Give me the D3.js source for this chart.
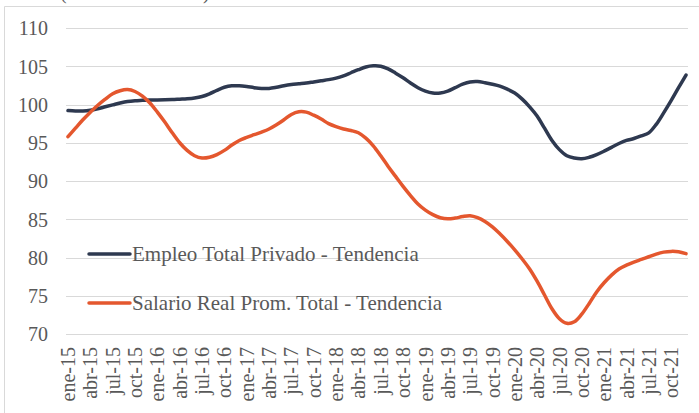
<!DOCTYPE html>
<html>
<head>
<meta charset="utf-8">
<script src="https://cdn.jsdelivr.net/npm/d3@7"></script>
<style>
  html, body { margin: 0; padding: 0; background: #fff; }
  svg { display: block; }
</style>
</head>
<body>
<svg id="chart" width="699" height="413"></svg>
<script>
// ---- data ----
const months = ["ene","feb","mar","abr","may","jun","jul","ago","sep","oct","nov","dic"];
const years = ["15","16","17","18","19","20","21"];
const seriesNames = ["Empleo Total Privado - Tendencia", "Salario Real Prom. Total - Tendencia"];
const empleo = [
  99.2, 99.15, 99.15, 99.25, 99.45, 99.7, 99.95, 100.2, 100.4, 100.5, 100.55, 100.6,
  100.6, 100.62, 100.65, 100.7, 100.75, 100.85, 101.05, 101.4, 101.85, 102.25, 102.45, 102.45,
  102.35, 102.2, 102.1, 102.1, 102.25, 102.45, 102.6, 102.7, 102.8, 102.95, 103.1, 103.25,
  103.45, 103.75, 104.15, 104.55, 104.9, 105.05, 105.0, 104.65, 104.1, 103.5, 102.8, 102.2,
  101.75, 101.5, 101.5, 101.75, 102.2, 102.65, 102.95, 103.0, 102.85, 102.65, 102.4, 102.0,
  101.5, 100.7, 99.7, 98.5, 96.9, 95.3, 94.1, 93.3, 93.0, 92.9, 93.1, 93.45,
  93.9, 94.4, 94.9, 95.3, 95.55, 95.9, 96.3, 97.4, 98.9, 100.5, 102.2, 103.85
];
const salario = [
  95.8, 96.9, 98.0, 99.0, 99.9, 100.7, 101.4, 101.8, 101.95, 101.7, 101.1, 100.2,
  99.0, 97.7, 96.3, 95.0, 94.0, 93.3, 93.0, 93.1, 93.45, 94.0, 94.7, 95.3,
  95.7, 96.05, 96.4, 96.8, 97.35, 98.0, 98.7, 99.05, 99.0, 98.6, 98.1, 97.5,
  97.1, 96.8, 96.6, 96.3, 95.6, 94.6, 93.3, 91.9, 90.6, 89.3, 88.1, 87.0,
  86.2, 85.6, 85.2, 85.05, 85.15, 85.35, 85.45, 85.2, 84.7, 84.0, 83.1, 82.1,
  81.0, 79.8, 78.5, 76.9, 75.1, 73.3, 72.0, 71.4, 71.6, 72.6, 74.0, 75.5,
  76.7, 77.7, 78.5, 79.0, 79.4, 79.75, 80.1, 80.45, 80.7, 80.8, 80.75, 80.5
];
const yTicks = [70, 75, 80, 85, 90, 95, 100, 105, 110];
const colors = ["#2e3950", "#e4572e"];

// ---- build ----
const FONT = "'Liberation Serif', 'Times New Roman', Times, 'DejaVu Serif', 'Noto Serif', serif";
const categories = [];
years.forEach(y => months.forEach(m => categories.push(m + "-" + y)));

const svg = d3.select("#chart").style("font-family", FONT);
const x = d3.scaleLinear().domain([0, categories.length - 1]).range([68, 686]);
const y = d3.scaleLinear().domain([70, 110]).range([334, 28]);

// frame
svg.append("line").attr("x1", 4.5).attr("x2", 4.5).attr("y1", 6.5).attr("y2", 413)
  .attr("stroke", "#d9d9d9").attr("stroke-width", 1);
svg.append("line").attr("x1", 4.5).attr("x2", 699).attr("y1", 6.5).attr("y2", 6.5)
  .attr("stroke", "#d9d9d9").attr("stroke-width", 1);

// cut-off title (only the bottom of the parentheses shows, as in the original)
svg.append("text").attr("x", 60).attr("y", -1).attr("font-size", 20)
  .style("font-family", FONT).attr("fill", "#595959")
  .text("(Índice 2015=100)");

// gridlines
svg.append("g").selectAll("line").data(yTicks).join("line")
  .attr("x1", 66).attr("x2", 688)
  .attr("y1", d => Math.round(y(d)) + 0.5).attr("y2", d => Math.round(y(d)) + 0.5)
  .attr("stroke", "#d9d9d9").attr("stroke-width", 1);

// y axis labels
const yAxis = d3.axisLeft(y).tickValues(yTicks).tickSize(0).tickPadding(0);
const gy = svg.append("g").attr("transform", "translate(48,0)").call(yAxis);
gy.attr("font-family", null);
gy.select(".domain").remove();
gy.selectAll("text").attr("font-size", 20).attr("fill", "#595959")
  .style("font-family", FONT).attr("dy", "0.34em");

// x axis labels
const labelIdx = d3.range(0, categories.length, 3);
const xAxis = d3.axisBottom(x).tickValues(labelIdx).tickFormat(i => categories[i]).tickSize(0);
const gx = svg.append("g").attr("transform", "translate(0,347)").call(xAxis);
gx.attr("font-family", null);
gx.select(".domain").remove();
gx.selectAll("text")
  .attr("font-size", 20).attr("fill", "#595959").style("font-family", FONT)
  .attr("text-anchor", "end").attr("transform", "rotate(-90)")
  .attr("x", 0).attr("y", 0).attr("dx", 0).attr("dy", "0.33em");

// lines
const line = d3.line().x((d, i) => x(i)).y(d => y(d)).curve(d3.curveCatmullRom.alpha(0.5));
[empleo, salario].forEach((s, k) => {
  svg.append("path").datum(s).attr("d", line).attr("fill", "none")
    .attr("stroke", colors[k]).attr("stroke-width", 3.5)
    .attr("stroke-linecap", "round").attr("stroke-linejoin", "round");
});

// legend
const legendY = [254, 303];
seriesNames.forEach((n, k) => {
  svg.append("line").attr("x1", 89).attr("x2", 130).attr("y1", legendY[k]).attr("y2", legendY[k])
    .attr("stroke", colors[k]).attr("stroke-width", 3.5).attr("stroke-linecap", "round");
  svg.append("text").attr("x", 132).attr("y", legendY[k]).attr("dy", "0.33em")
    .attr("font-size", 21).attr("fill", "#595959").style("font-family", FONT).text(n);
});
</script>
</body>
</html>
